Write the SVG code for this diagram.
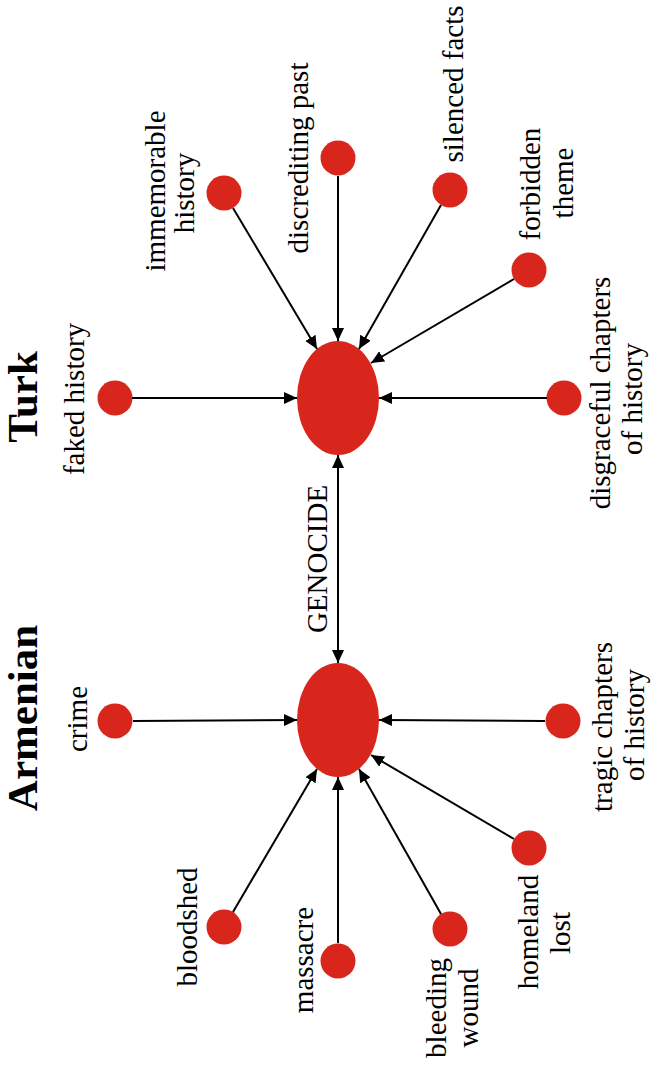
<svg xmlns="http://www.w3.org/2000/svg" width="654" height="1066" viewBox="0 0 654 1066">
<style>
text{font-family:"Liberation Serif","Times New Roman",serif;font-size:29px;fill:#000;text-anchor:middle}
.title{font-weight:bold;font-size:43px}
.dot{fill:#D9261C}
.hub{fill:#D9261C}
.edge{stroke:#000;stroke-width:2;fill:none;marker-end:url(#ah)}
</style>
<defs>
<marker id="ah" markerUnits="userSpaceOnUse" markerWidth="14" markerHeight="12" refX="13" refY="6" orient="auto-start-reverse" viewBox="0 0 14 12">
<path d="M0,0 L13,6 L0,12 z" fill="#000"/>
</marker>
</defs>
<rect width="654" height="1066" fill="#fff"/>

<g id="titles">
<text class="title" transform="translate(37,397) rotate(-90)">Turk</text>
<text class="title" transform="translate(37,718) rotate(-90)">Armenian</text>
</g>

<g id="hub-turk"><ellipse class="hub" cx="338" cy="398" rx="41" ry="57"/></g>
<g id="hub-armenian"><ellipse class="hub" cx="338" cy="720" rx="41" ry="57"/></g>

<g id="n-faked"><circle class="dot" cx="115" cy="398" r="17.5"/><text transform="translate(84,399) rotate(-90)">faked history</text></g>
<g id="n-immemorable"><circle class="dot" cx="224" cy="193" r="17.5"/><text transform="translate(165,191) rotate(-90)">immemorable</text><text transform="translate(194,193) rotate(-90)">history</text></g>
<g id="n-discrediting"><circle class="dot" cx="338" cy="158" r="17.5"/><text transform="translate(308,158) rotate(-90)">discrediting past</text></g>
<g id="n-silenced"><circle class="dot" cx="450" cy="190" r="17.5"/><text transform="translate(463,84) rotate(-90)">silenced facts</text></g>
<g id="n-forbidden"><circle class="dot" cx="529" cy="270" r="17.5"/><text transform="translate(540,184) rotate(-90)">forbidden</text><text transform="translate(573,183) rotate(-90)">theme</text></g>
<g id="n-disgraceful"><circle class="dot" cx="564" cy="398" r="17.5"/><text transform="translate(610,393) rotate(-90)">disgraceful chapters</text><text transform="translate(642,399) rotate(-90)">of history</text></g>

<g id="n-crime"><circle class="dot" cx="115" cy="721" r="17.5"/><text transform="translate(87,719) rotate(-90)">crime</text></g>
<g id="n-bloodshed"><circle class="dot" cx="224" cy="927" r="17.5"/><text transform="translate(197,927) rotate(-90)">bloodshed</text></g>
<g id="n-massacre"><circle class="dot" cx="338" cy="961" r="17.5"/><text transform="translate(313,960) rotate(-90)">massacre</text></g>
<g id="n-bleeding"><circle class="dot" cx="450" cy="929" r="17.5"/><text transform="translate(446,1008) rotate(-90)">bleeding</text><text transform="translate(478,1008) rotate(-90)">wound</text></g>
<g id="n-homeland"><circle class="dot" cx="529" cy="848" r="17.5"/><text transform="translate(538,932) rotate(-90)">homeland</text><text transform="translate(570,933) rotate(-90)">lost</text></g>
<g id="n-tragic"><circle class="dot" cx="563" cy="721" r="17.5"/><text transform="translate(612,727) rotate(-90)">tragic chapters</text><text transform="translate(644,725) rotate(-90)">of history</text></g>

<g id="connectors">
<line class="edge" x1="132" y1="398" x2="297" y2="398"/>
<line class="edge" x1="233" y1="208" x2="317" y2="349"/>
<line class="edge" x1="338" y1="176" x2="338" y2="341"/>
<line class="edge" x1="441" y1="205" x2="359" y2="349"/>
<line class="edge" x1="514" y1="279" x2="371" y2="363"/>
<line class="edge" x1="547" y1="398" x2="379" y2="398"/>
<line class="edge" x1="133" y1="721" x2="297" y2="720"/>
<line class="edge" x1="233" y1="912" x2="317" y2="769"/>
<line class="edge" x1="338" y1="943" x2="338" y2="777"/>
<line class="edge" x1="441" y1="914" x2="359" y2="769"/>
<line class="edge" x1="514" y1="839" x2="371" y2="755"/>
<line class="edge" x1="545" y1="721" x2="379" y2="720"/>
<line class="edge" x1="338" y1="663" x2="338" y2="455" style="marker-start:url(#ah)"/>
<text transform="translate(327,559) rotate(-90)">GENOCIDE</text>
</g>
</svg>
